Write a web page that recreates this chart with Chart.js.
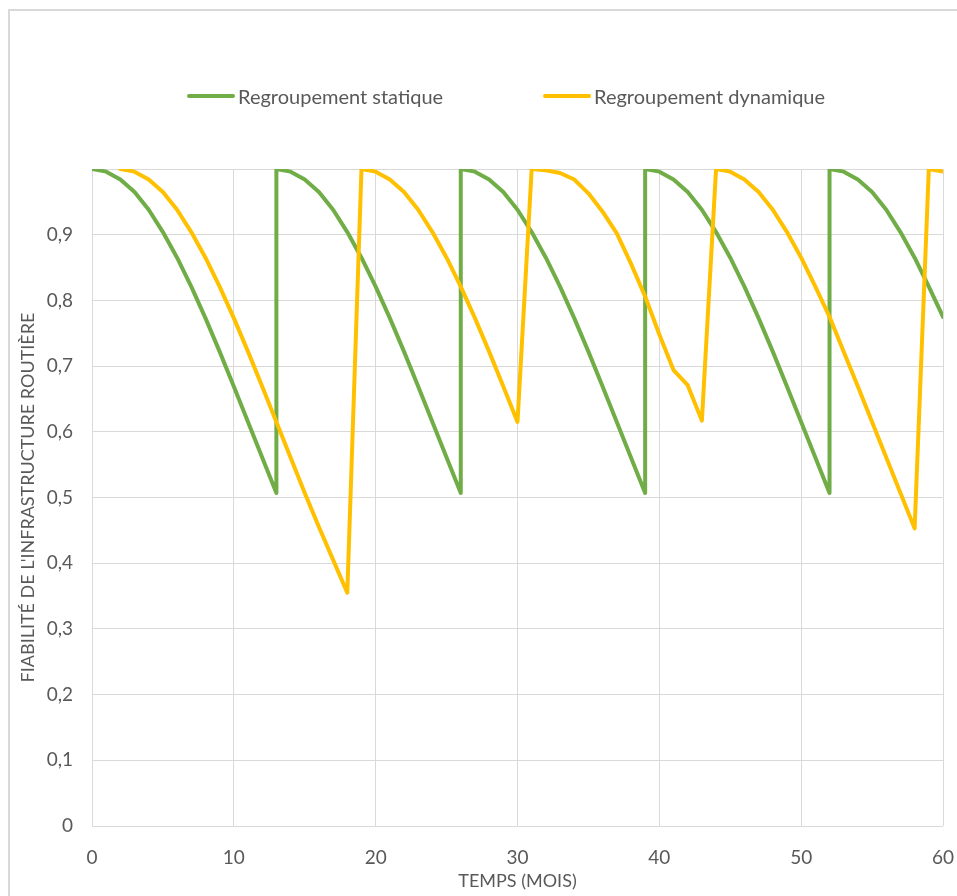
<!DOCTYPE html>
<html lang="fr">
<head>
<meta charset="utf-8">
<title>Fiabilité de l'infrastructure routière</title>
<script src="https://cdn.jsdelivr.net/npm/chart.js@4/dist/chart.umd.min.js"></script>
<style>
    body { margin: 0; background: #fff; font-family: Lato, sans-serif; }
    #frame { position: absolute; left: 8px; top: 9px; width: 1000px; height: 1000px;
             border-left: 2px solid #d9d9d9; border-top: 2px solid #d9d9d9; }
    #statChart { position: absolute; left: 0; top: 0; }
    .legend-item { position: absolute; top: 84px; height: 24px; display: flex; align-items: center;
                   font-size: 20px; color: #595959; white-space: nowrap; }
    .legend-swatch { width: 48px; height: 4px; border-radius: 2px; margin-right: 3px; }
</style>
</head>
<body>
<div id="frame"></div>
<canvas id="statChart" width="957" height="896"></canvas>
<div id="legend"></div>

<script>
// Séries (mois, fiabilité)
const staticLabel = 'Regroupement statique';
const dynamicLabel = 'Regroupement dynamique';

const staticMonths = [
    0, 1, 2, 3, 4, 5, 6, 7, 8, 9, 10, 11, 12, 13,
    13, 14, 15, 16, 17, 18, 19, 20, 21, 22, 23, 24, 25, 26,
    26, 27, 28, 29, 30, 31, 32, 33, 34, 35, 36, 37, 38, 39,
    39, 40, 41, 42, 43, 44, 45, 46, 47, 48, 49, 50, 51, 52,
    52, 53, 54, 55, 56, 57, 58, 59, 60
];
const staticValues = [
    1, 0.996, 0.984, 0.965, 0.938, 0.904, 0.865, 0.821, 0.773, 0.722, 0.669, 0.615, 0.561, 0.507,
    1, 0.996, 0.984, 0.965, 0.938, 0.904, 0.865, 0.821, 0.773, 0.722, 0.669, 0.615, 0.561, 0.507,
    1, 0.996, 0.984, 0.965, 0.938, 0.904, 0.865, 0.821, 0.773, 0.722, 0.669, 0.615, 0.561, 0.507,
    1, 0.996, 0.984, 0.965, 0.938, 0.904, 0.865, 0.821, 0.773, 0.722, 0.669, 0.615, 0.561, 0.507,
    1, 0.996, 0.984, 0.965, 0.938, 0.904, 0.865, 0.821, 0.775
];

const dynamicMonths = [
    2, 3, 4, 5, 6, 7, 8, 9, 10, 11, 12, 13, 14, 15, 16, 17, 18,
    19, 20, 21, 22, 23, 24, 25, 26, 27, 28, 29, 30,
    31, 32, 33, 34, 35, 36, 37, 38, 39, 40, 41, 42, 43,
    44, 45, 46, 47, 48, 49, 50, 51, 52, 53, 54, 55, 56, 57, 58,
    59, 60
];
const dynamicValues = [
    1, 0.996, 0.984, 0.965, 0.938, 0.904, 0.865, 0.821, 0.773, 0.722, 0.669, 0.615, 0.561, 0.507, 0.455, 0.405, 0.355,
    1, 0.996, 0.984, 0.965, 0.938, 0.904, 0.865, 0.821, 0.773, 0.722, 0.669, 0.615,
    1, 0.998, 0.994, 0.984, 0.963, 0.935, 0.902, 0.856, 0.806, 0.748, 0.694, 0.671, 0.617,
    1, 0.996, 0.984, 0.965, 0.938, 0.904, 0.865, 0.821, 0.775, 0.722, 0.669, 0.615, 0.561, 0.507, 0.453,
    1, 0.996
];

const xTitle = 'TEMPS (MOIS)';
const yTitle = "FIABILITÉ DE L'INFRASTRUCTURE ROUTIÈRE";

const green = '#70ad47';
const yellow = '#ffc000';
const textColor = '#595959';
const gridColor = '#d9d9d9';

function toPoints(months, values) {
    return months.map((m, i) => ({ x: m, y: values[i] }));
}

function renderLegend() {
    const items = [
        { label: staticLabel, color: green, left: 187 },
        { label: dynamicLabel, color: yellow, left: 543 }
    ];
    const legend = document.getElementById('legend');
    legend.innerHTML = '';
    items.forEach(item => {
        legend.innerHTML += `
            <div class="legend-item" style="left:${item.left}px">
                <span class="legend-swatch" style="background:${item.color}"></span>
                <span>${item.label}</span>
            </div>`;
    });
}

function initChart() {
    const ctx = document.getElementById('statChart').getContext('2d');
    new Chart(ctx, {
        type: 'line',
        data: {
            datasets: [{
                label: staticLabel,
                data: toPoints(staticMonths, staticValues),
                borderColor: green,
                backgroundColor: green,
                borderWidth: 4,
                pointRadius: 0,
                tension: 0,
                order: 1
            }, {
                label: dynamicLabel,
                data: toPoints(dynamicMonths, dynamicValues),
                borderColor: yellow,
                backgroundColor: yellow,
                borderWidth: 4,
                pointRadius: 0,
                tension: 0,
                order: 0
            }]
        },
        options: {
            responsive: false,
            animation: false,
            layout: { padding: { left: 0, right: 14, top: 169, bottom: 0 } },
            scales: {
                x: {
                    type: 'linear',
                    min: 0,
                    max: 60,
                    grid: { color: gridColor, drawTicks: false },
                    border: { display: false },
                    ticks: {
                        stepSize: 10,
                        padding: 20,
                        color: textColor,
                        font: { family: 'Lato', size: 19 },
                        maxRotation: 0
                    },
                    title: {
                        display: true,
                        text: xTitle,
                        color: textColor,
                        font: { family: 'Lato', size: 18 },
                        padding: { top: 0, bottom: 4 }
                    },
                    afterFit: scale => {
                        scale.height = 70;
                        scale.paddingLeft = 0;
                        scale.paddingRight = 0;
                    }
                },
                y: {
                    min: 0,
                    max: 1,
                    grid: { color: gridColor, drawTicks: false },
                    border: { display: false },
                    ticks: {
                        stepSize: 0.1,
                        padding: 19,
                        color: textColor,
                        font: { family: 'Lato', size: 19 },
                        callback: v => v >= 1 ? '' : String(Math.round(v * 10) / 10).replace('.', ',')
                    },
                    title: {
                        display: true,
                        text: yTitle,
                        color: textColor,
                        font: { family: 'Lato', size: 18 },
                        padding: { top: 17, bottom: 0 }
                    },
                    afterFit: scale => {
                        scale.width = 92;
                        scale.paddingTop = 0;
                        scale.paddingBottom = 0;
                    }
                }
            },
            elements: { line: { borderJoinStyle: 'round', borderCapStyle: 'round' } },
            plugins: {
                legend: { display: false },
                tooltip: { enabled: false }
            }
        }
    });
}

renderLegend();
initChart();
</script>
</body>
</html>
